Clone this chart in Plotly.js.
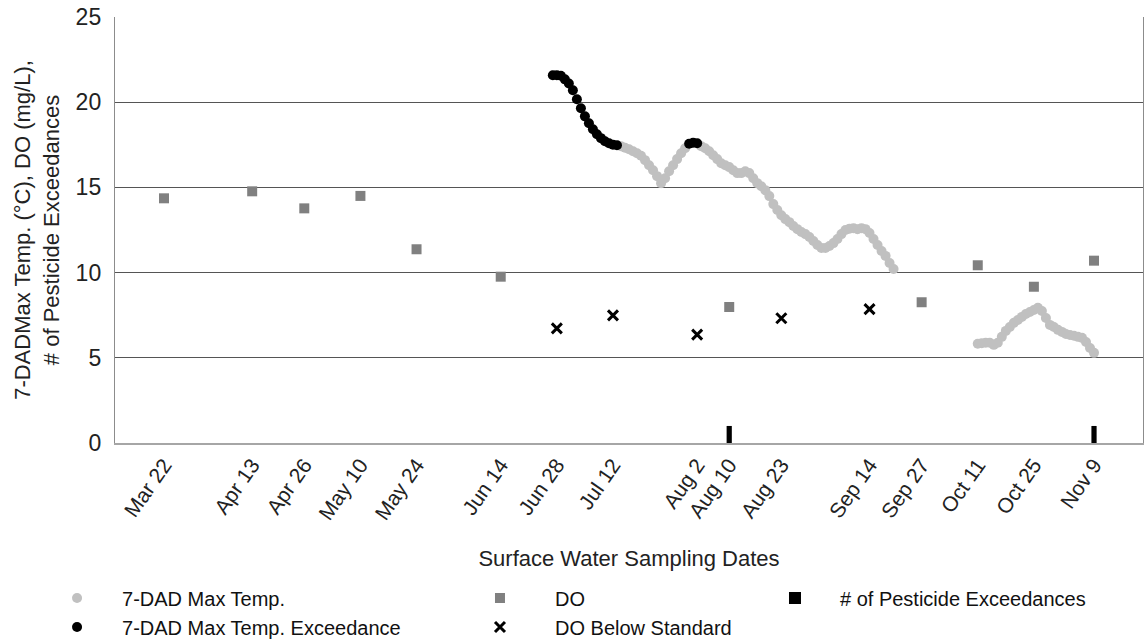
<!DOCTYPE html>
<html><head><meta charset="utf-8">
<script src="https://cdn.plot.ly/plotly-3.0.1.min.js"></script>
<style>html,body{margin:0;padding:0;background:#fff}#chart{width:1144px;height:640px}</style>
</head><body><div id="chart"></div>
<script>
const YEAR = '2021';
const samplingDates = ['03-22','04-13','04-26','05-10','05-24','06-14','06-28','07-12','08-02','08-10','08-23','09-14','09-27','10-11','10-25','11-09'];
const samplingLabels = ['Mar 22','Apr 13','Apr 26','May 10','May 24','Jun 14','Jun 28','Jul 12','Aug 2','Aug 10','Aug 23','Sep 14','Sep 27','Oct 11','Oct 25','Nov 9'];

const doDates = ['03-22','04-13','04-26','05-10','05-24','06-14','08-10','09-27','10-11','10-25','11-09'];
const doValues = [14.36,14.77,13.77,14.5,11.37,9.76,7.98,8.26,10.43,9.17,10.7];

const doBelowDates = ['06-28','07-12','08-02','08-23','09-14'];
const doBelowValues = [6.73,7.49,6.36,7.32,7.86];

const pesticideCounts = [0,0,0,0,0,0,0,0,0,1,0,0,0,0,0,1];

const tempDates = [
 '07-14','07-15','07-16','07-17','07-18','07-19','07-20','07-21','07-22','07-23','07-24','07-25','07-26','07-27','07-28','07-29','07-30',
 '08-03','08-04','08-05','08-06','08-07','08-08','08-09','08-10','08-11','08-12','08-13','08-14','08-15','08-16','08-17','08-18','08-19','08-20',
 '08-21','08-22','08-23','08-24','08-25','08-26','08-27','08-28','08-29','08-30','08-31',
 '09-01','09-02','09-03','09-04','09-05','09-06','09-07','09-08','09-09','09-10','09-11','09-12','09-13','09-14','09-15','09-16','09-17','09-18','09-19','09-20',
 '10-11','10-12','10-13','10-14','10-15','10-16','10-17','10-18','10-19','10-20','10-21','10-22','10-23','10-24','10-25','10-26','10-27','10-28','10-29','10-30','10-31',
 '11-01','11-02','11-03','11-04','11-05','11-06','11-07','11-08','11-09'
];
const tempValues = [
 17.42,17.33,17.24,17.12,17.0,16.86,16.6,16.3,16.01,15.66,15.25,15.54,15.95,16.3,16.66,17.0,17.3,
 17.42,17.3,17.12,16.89,16.66,16.42,16.3,16.19,16.01,15.84,15.84,15.95,15.84,15.54,15.25,15.07,14.84,14.49,
 14.02,13.67,13.37,13.14,12.96,12.73,12.55,12.38,12.26,12.09,11.85,
 11.62,11.44,11.44,11.56,11.73,11.97,12.26,12.5,12.58,12.61,12.55,12.61,12.55,12.32,11.97,11.62,11.27,10.98,10.56,10.21,
 5.82,5.85,5.88,5.88,5.76,5.88,6.23,6.58,6.81,7.05,7.22,7.4,7.57,7.69,7.81,7.93,7.75,7.34,6.93,6.81,6.64,
 6.52,6.4,6.34,6.29,6.23,6.17,5.93,5.58,5.29
];

const exceedDates = ['06-27','06-28','06-29','06-30','07-01','07-02','07-03','07-04','07-05','07-06','07-07','07-08','07-09','07-10','07-11','07-12','07-13','07-31','08-01','08-02'];
const exceedValues = [21.58,21.58,21.55,21.34,21.1,20.7,20.17,19.64,19.17,18.76,18.41,18.12,17.89,17.71,17.59,17.5,17.47,17.56,17.62,17.59];

const d = s => YEAR + '-' + s;
const FONT = 'Liberation Sans, Arial, sans-serif';

const traces = [
 {type:'scatter', mode:'markers', name:'7-DAD Max Temp.', x:tempDates.map(d), y:tempValues,
  marker:{color:'#c0c0c0', size:10}, legend:'legend'},
 {type:'scatter', mode:'markers', name:'7-DAD Max Temp. Exceedance', x:exceedDates.map(d), y:exceedValues,
  marker:{color:'#000000', size:10}, legend:'legend'},
 {type:'scatter', mode:'markers', name:'DO', x:doDates.map(d), y:doValues,
  marker:{color:'#808080', size:10, symbol:'square'}, legend:'legend2'},
 {type:'scatter', mode:'markers', name:'DO Below Standard', x:doBelowDates.map(d), y:doBelowValues,
  marker:{color:'#000000', size:10, symbol:'x-thin-open', line:{color:'#000000', width:3}}, legend:'legend2'},
 {type:'bar', name:'# of Pesticide Exceedances', x:samplingDates.map(d), y:pesticideCounts,
  width:1.3*86400000, marker:{color:'#000000'}, legend:'legend3'}
];

const legendBase = {orientation:'v', xanchor:'left', yanchor:'top', y:-0.318,
  font:{family:FONT, size:20, color:'#111'}, bgcolor:'rgba(0,0,0,0)', tracegroupgap:0};

const layout = {
 width:1144, height:640,
 margin:{l:115, r:1, t:17, b:197, autoexpand:false},
 paper_bgcolor:'#ffffff', plot_bgcolor:'#ffffff',
 font:{family:FONT, color:'#222'},
 showlegend:true,
 xaxis:{type:'date', range:['2021-03-09 18:43','2021-11-21 05:17'], automargin:false,
  tickvals:samplingDates.map(d), ticktext:samplingLabels, tickangle:-55,
  tickfont:{family:FONT, size:21, color:'#222'}, showgrid:false, zeroline:false,
  showline:true, linecolor:'#a6a6a6', linewidth:1.5, ticks:'',
  title:{text:'Surface Water Sampling Dates', font:{family:FONT, size:22, color:'#222'}, standoff:27}},
 yaxis:{range:[0,25], tickvals:[0,5,10,15,20,25], automargin:false,
  tickfont:{family:FONT, size:23, color:'#222'}, ticklabelstandoff:8,
  showgrid:true, gridcolor:'#555555', gridwidth:1.3, zeroline:false,
  showline:true, mirror:true, linecolor:'#8c8c8c', linewidth:1.2, ticks:'',
  title:{text:'7-DADMax Temp. (°C), DO (mg/L),<br># of Pesticide Exceedances', font:{family:FONT, size:22, color:'#222'}, standoff:10}},
 legend:Object.assign({}, legendBase, {x:-0.0807, itemwidth:80}),
 legend2:Object.assign({}, legendBase, {x:0.321, itemwidth:100}),
 legend3:Object.assign({}, legendBase, {x:0.6177, itemwidth:80})
};

Plotly.newPlot('chart', traces, layout, {displayModeBar:false, staticPlot:true});
</script>
</body></html>
